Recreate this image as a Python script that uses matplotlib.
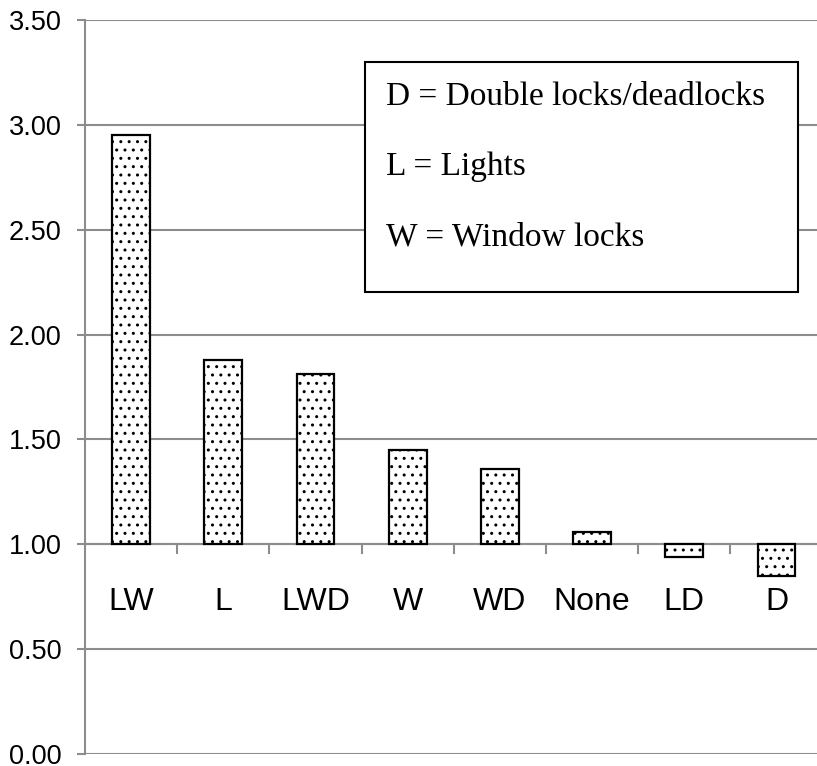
import numpy as np
import matplotlib
matplotlib.use("Agg")
import matplotlib.pyplot as plt
from matplotlib.patches import Rectangle

# --- data ---
categories = ["LW", "L", "LWD", "W", "WD", "None", "LD", "D"]
values = [2.95, 1.88, 1.81, 1.45, 1.36, 1.06, 0.94, 0.85]
baseline = 1.0
y_ticks = [0.0, 0.5, 1.0, 1.5, 2.0, 2.5, 3.0, 3.5]
legend_lines = ["D = Double locks/deadlocks", "L = Lights", "W = Window locks"]

plt.rcParams['font.family'] = ['Liberation Sans', 'DejaVu Sans']
plt.rcParams['hatch.color'] = '#555555'
plt.rcParams['hatch.linewidth'] = 1.0

W, H = 817, 766
fig = plt.figure(figsize=(W / 100, H / 100), dpi=100)
ax = fig.add_axes([85 / W, (H - 754) / H, (822.6 - 85) / W, (754 - 20) / H])

grid_c = '#8c8c8c'
x = np.arange(len(categories)) + 0.5
heights = np.array(values) - baseline
ax.bar(x, heights, bottom=baseline, width=0.41, color='white',
       edgecolor='black', linewidth=1.6, hatch='..', zorder=3)

ax.set_xlim(0, len(categories))
ax.set_ylim(0, 3.5)
ax.set_yticks(y_ticks)
ax.set_yticklabels([f"{v:.2f}" for v in y_ticks], fontsize=19.5)
ax.yaxis.grid(True, color=grid_c, linewidth=1.5)
ax.set_axisbelow(True)

# x axis crosses at 1.00
ax.spines['bottom'].set_position(('data', baseline))
for s in ['top', 'right']:
    ax.spines[s].set_visible(False)
for s in ['left', 'bottom']:
    ax.spines[s].set_color(grid_c)
    ax.spines[s].set_linewidth(1.5)

ax.set_xticks(np.arange(1, len(categories)))
ax.set_xticklabels([])
ax.set_xticks(x, minor=True)
ax.set_xticklabels(categories, minor=True, fontsize=23)
ax.tick_params(axis='x', which='major', direction='out', length=7,
               width=1.5, color=grid_c)
ax.tick_params(axis='x', which='minor', length=0, pad=31)
ax.tick_params(axis='y', direction='out', length=6, width=1.5,
               color=grid_c, pad=11)

# legend box
fig.patches.append(Rectangle((365 / W, 1 - 292 / H), (798 - 365) / W,
                             (292 - 62) / H, transform=fig.transFigure,
                             facecolor='white', edgecolor='black',
                             linewidth=1.5, zorder=5))
for i, line in enumerate(legend_lines):
    fig.text(386 / W, 1 - (105 + 70 * i) / H, line, fontsize=24,
             family=['Liberation Serif', 'DejaVu Serif'],
             va='baseline', ha='left', zorder=6)

fig.savefig("out.png", dpi=100)
